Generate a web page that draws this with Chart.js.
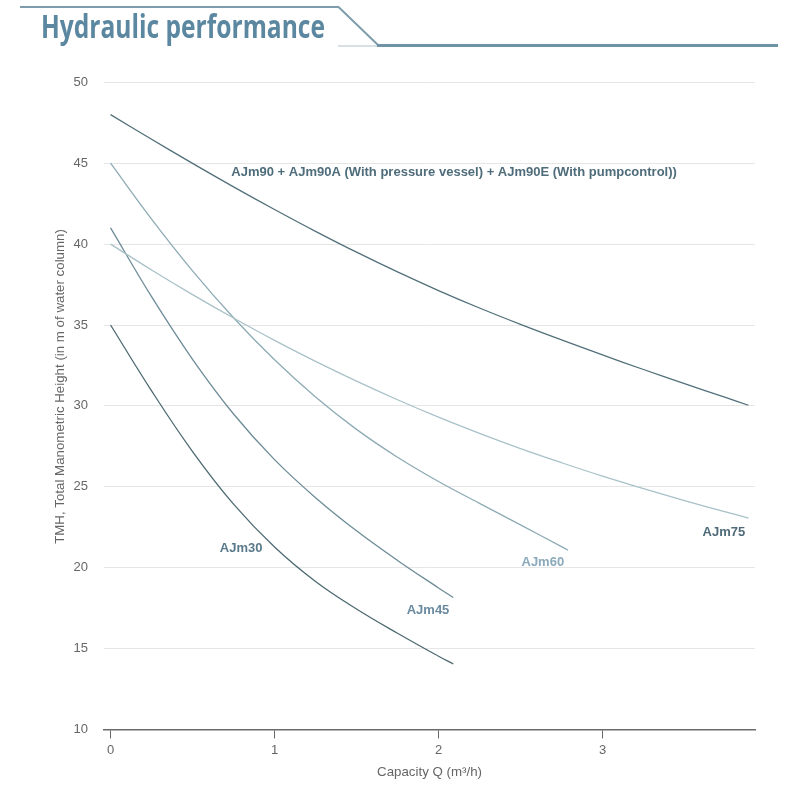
<!DOCTYPE html>
<html>
<head>
<meta charset="utf-8">
<script src="https://cdn.jsdelivr.net/npm/chart.js@4.4.1/dist/chart.umd.min.js"></script>
<style>
  html, body { margin: 0; padding: 0; background: #fff; }
  #wrap { position: relative; width: 800px; height: 800px; }
  #deco { position: absolute; left: 0; top: 0; }
  #c { position: absolute; left: 0; top: 0; }
</style>
</head>
<body>
<div id="wrap">
  <canvas id="c" width="800" height="800"></canvas>
  <svg id="deco" width="800" height="60">
    <line x1="20" y1="7" x2="339" y2="7" stroke="#7d9dad" stroke-width="2"/>
    <line x1="338" y1="6.5" x2="378" y2="45" stroke="#7d9dad" stroke-width="2"/>
    <line x1="338" y1="46" x2="378" y2="46" stroke="#c9d6dc" stroke-width="1.5"/>
    <line x1="377" y1="45.5" x2="778" y2="45.5" stroke="#6f93a5" stroke-width="3"/>
    <text x="41" y="38" font-family="'Open Sans', 'DejaVu Sans', sans-serif" font-weight="700" font-size="33" fill="#5b88a0" textLength="284" lengthAdjust="spacingAndGlyphs">Hydraulic performance</text>
  </svg>
</div>
<script>
// ---- Data ----
const seriesNames = ['AJm90', 'AJm75', 'AJm60', 'AJm45', 'AJm30'];

const qAJm90 = [0, 0.25, 0.5, 0.75, 1.0, 1.25, 1.5, 1.75, 2.0, 2.25, 2.5, 2.75, 3.0, 3.25, 3.5, 3.75, 3.89];
const hAJm90 = [48, 46.48, 44.99, 43.54, 42.14, 40.79, 39.5, 38.28, 37.13, 36.05, 35.04, 34.08, 33.15, 32.25, 31.38, 30.52, 30.04];

const qAJm75 = [0, 0.25, 0.5, 0.75, 1.0, 1.25, 1.5, 1.75, 2.0, 2.25, 2.5, 2.75, 3.0, 3.25, 3.5, 3.75, 3.89];
const hAJm75 = [40, 38.4, 36.88, 35.43, 34.05, 32.75, 31.53, 30.38, 29.3, 28.3, 27.36, 26.49, 25.66, 24.89, 24.15, 23.45, 23.07];

const qAJm60 = [0, 0.25, 0.5, 0.75, 1.0, 1.25, 1.5, 1.75, 2.0, 2.25, 2.5, 2.75, 2.79];
const hAJm60 = [45, 41.55, 38.35, 35.45, 32.85, 30.55, 28.55, 26.83, 25.33, 23.98, 22.65, 21.3, 21.08];

const qAJm45 = [0, 0.25, 0.5, 0.75, 1.0, 1.25, 1.5, 1.75, 2.0, 2.09];
const hAJm45 = [41, 36.75, 32.88, 29.5, 26.68, 24.33, 22.28, 20.45, 18.75, 18.16];

const qAJm30 = [0, 0.25, 0.5, 0.75, 1.0, 1.25, 1.5, 1.75, 2.0, 2.09];
const hAJm30 = [35, 30.93, 27.18, 23.93, 21.28, 19.15, 17.45, 15.95, 14.53, 14.05];

const xTicks = [0, 1, 2, 3];
const yTicks = [10, 15, 20, 25, 30, 35, 40, 45, 50];

const curveLabels = [
  'AJm90 + AJm90A (With pressure vessel) + AJm90E (With pumpcontrol))',
  'AJm75', 'AJm60', 'AJm45', 'AJm30'
];
const xTitle = 'Capacity Q (m³/h)';
const yTitle = 'TMH, Total Manometric Height (in m of water column)';

// ---- Styling ----
const lineColors = ['#52707a', '#a9c1c8', '#8eabb5', '#6d8c98', '#4d6a72'];
const labelColors = ['#4e6c7a', '#4f6b79', '#8aa9bb', '#6a8aa0', '#5a7a8b'];
// label anchors in data units (Q, H)
const labelAnchors = [
  {q: 2.095, h: 44.46},
  {q: 3.74, h: 22.15},
  {q: 2.636, h: 20.35},
  {q: 1.936, h: 17.39},
  {q: 0.796, h: 21.2}
];

function pts(q, h) { return q.map((v, i) => ({x: v, y: h[i]})); }
const seriesQ = [qAJm90, qAJm75, qAJm60, qAJm45, qAJm30];
const seriesH = [hAJm90, hAJm75, hAJm60, hAJm45, hAJm30];

const datasets = seriesNames.map((n, i) => ({
  label: n,
  data: pts(seriesQ[i], seriesH[i]),
  borderColor: lineColors[i],
  borderWidth: 1.3,
  pointRadius: 0,
  fill: false,
  tension: 0.4
}));

const labelPlugin = {
  id: 'curveLabels',
  afterDatasetsDraw(chart) {
    const {ctx, scales: {x, y}} = chart;
    ctx.save();
    ctx.font = "bold 13px 'Liberation Sans', Arial, sans-serif";
    ctx.textAlign = 'center';
    ctx.textBaseline = 'middle';
    curveLabels.forEach((t, i) => {
      ctx.fillStyle = labelColors[i];
      ctx.fillText(t, x.getPixelForValue(labelAnchors[i].q), y.getPixelForValue(labelAnchors[i].h));
    });
    // vertical axis title (slightly above the plot centre, as in the reference)
    ctx.font = "13.3px 'Liberation Sans', Arial, sans-serif";
    ctx.fillStyle = '#666';
    ctx.translate(60, y.getPixelForValue(31.2));
    ctx.rotate(-Math.PI / 2);
    ctx.fillText(yTitle, 0, 0);
    ctx.restore();
  }
};

Chart.defaults.font.family = "'Liberation Sans', Arial, sans-serif";

new Chart(document.getElementById('c'), {
  type: 'line',
  data: { datasets },
  plugins: [labelPlugin],
  options: {
    responsive: false,
    animation: false,
    layout: { padding: { left: 0, top: 82.3, right: 45, bottom: 0 } },
    plugins: { legend: { display: false }, tooltip: { enabled: false } },
    scales: {
      x: {
        type: 'linear',
        min: -0.04,
        max: 3.93,
        afterBuildTicks: s => { s.ticks = xTicks.map(v => ({value: v})); },
        afterFit: s => { s.height = 70.5; },
        ticks: { color: '#666', font: { size: 13 }, padding: 4, maxRotation: 0 },
        grid: { drawOnChartArea: false, drawTicks: true, tickLength: 9, color: '#666', tickColor: '#666' },
        border: { display: true, color: '#6b6b6b', width: 1.5 },
        title: { display: true, text: xTitle, color: '#666', font: { size: 13.3 }, padding: { bottom: 20 } }
      },
      y: {
        type: 'linear',
        min: 10,
        max: 50,
        afterBuildTicks: s => { s.ticks = yTicks.map(v => ({value: v})); },
        afterFit: s => { s.width = 104; },
        ticks: { color: '#666', font: { size: 13 }, padding: 16 },
        grid: { color: '#e6e6e6', drawTicks: false },
        border: { display: false },
        title: { display: false }
      }
    }
  }
});
</script>
</body>
</html>
